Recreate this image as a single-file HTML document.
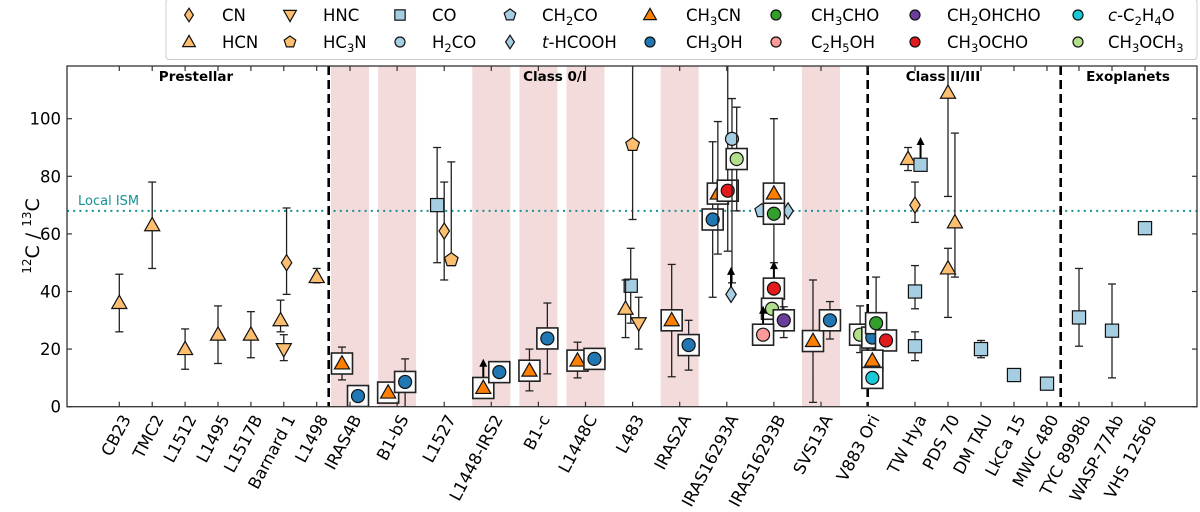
<!DOCTYPE html>
<html><head><meta charset="utf-8"><style>
html,body{margin:0;padding:0;background:#fff;}
svg{display:block;font-family:"DejaVu Sans","Liberation Sans",sans-serif;}
</style></head><body>
<svg id="chart" width="1200" height="512" viewBox="0 0 1200 512"></svg>
<script>
const categories=["CB23","TMC2","L1512","L1495","L1517B","Barnard 1","L1498","IRAS4B","B1-bS","L1527","L1448-IRS2","B1-c","L1448C","L483","IRAS2A","IRAS16293A","IRAS16293B","SVS13A","V883 Ori","TW Hya","PDS 70","DM TAU","LkCa 15","MWC 480","TYC 8998b","WASP-77Ab","VHS 1256b"];
const shadedCats=[7,8,10,11,12,14,17];
const yTicks=[0,20,40,60,80,100];
const localISM=68;
// points
const ptCat=[0,1,2,3,4,5,5,5,6, 7,7,8,8,9,9,9,10,10,11,11,12,12,13,13,13,13,14,14, 15,15,15,15,15,15, 16,16,16,16,16,16,16,16, 17,17, 18,18,18,18,18,18, 19,19,19,19,19, 20,20,20, 21,22,23,24,25,26];
const ptSpecies=["HCN","HCN","HCN","HCN","HCN","CN","HCN","HNC","HCN",
"CH3CN","CH3OH","CH3CN","CH3OH","CO","CN","HC3N","CH3CN","CH3OH","CH3CN","CH3OH","CH3CN","CH3OH","HC3N","CO","HCN","HNC","CH3CN","CH3OH",
"CH3OH","CH3CN","CH3OCHO","H2CO","CH3OCH3","tHCOOH",
"CH2CO","tHCOOH","CH3CN","CH3CHO","CH3OCHO","CH3OCH3","CH2OHCHO","C2H5OH",
"CH3CN","CH3OH",
"CH3OCH3","CH3OH","CH3CHO","CH3OCHO","CH3CN","cC2H4O",
"HCN","CO","CN","CO","CO",
"HCN","HCN","HCN",
"CO","CO","CO","CO","CO","CO"];
const ptValue=[36,63,20,25,25,50,30,20,45,
15,3.7,4.9,8.6,70,61,51,6.5,12,12.5,23.7,16,16.6,91,42,34,29,30,21.4,
65,74,75,93,86,39,
68,68,74,67,41,34,30,25,
22.8,30,
25,24,29,23,16,10,
86,84,70,40,21,
109,48,64,
20,11,8,31,26.4,62];
const ptLow=[26,48,13,15,17,39,26,16,43,
9.3,null,null,0,50,44,49,null,null,5.5,11.4,10,null,65,29,24,20,10.4,12.7,
38,53,54,43,68,null,
null,null,50,null,null,31,24,null,
1.5,23.5,
18.8,null,20,null,null,null,
82,null,64,34,16,
73,31,45,
17,null,null,21,10,null];
const ptHigh=[46,78,27,35,33,69,37,25,48,
20.7,null,null,16.6,90,78,85,null,null,20,36,22.4,null,125,55,44,38,49.4,30,
92,99,125,107,104,null,
null,null,100,null,null,36,34.7,null,
44,36.5,
35,null,45,null,null,null,
90,null,78,49,26,
125,55,95,
23,null,null,48,42.6,null];
const ptLimit=[null,null,null,null,null,null,null,null,null,
null,null,null,null,null,null,null,15.6,null,null,null,null,null,null,null,null,null,null,null,
null,null,null,null,null,47.5,
null,null,null,null,49.5,null,null,34,
null,null,
null,null,null,null,null,null,
null,92.6,null,null,null,
null,null,null,
null,null,null,null,null,null];
const ptDodge=[0,0,0,0,0,0.06,-0.07,0,0,
-0.17,0.17,-0.19,0.17,-0.15,0,0.15,-0.17,0.17,-0.19,0.19,-0.17,0.19,0,-0.04,-0.15,0.13,-0.17,0.19,
-0.3,-0.19,0.02,0.11,0.21,0.09,
-0.26,0.3,0,0,0,-0.04,0.21,-0.23,
-0.17,0.19,
-0.17,0.09,0.17,0.38,0.09,0.09,
-0.15,0.12,0,0,0,
0,0,0.15,
0,0,0,0,0,0];
const ptBoxed=[0,0,0,0,0,0,0,0,0,
1,1,1,1,0,0,0,1,1,1,1,1,1,0,0,0,0,1,1,
1,1,1,0,1,0,
0,0,1,1,1,1,1,1,
1,1,
1,1,1,1,1,1,
0,0,0,0,0,
0,0,0,
0,0,0,0,0,0];

const species={
 CN:{shape:"diamond",color:"#fdbf6f",label:["CN"]},
 HCN:{shape:"tri",color:"#fdbf6f",label:["HCN"]},
 HNC:{shape:"dtri",color:"#fdbf6f",label:["HNC"]},
 HC3N:{shape:"pent",color:"#fdbf6f",label:["HC",["3"],"N"]},
 CO:{shape:"square",color:"#a6cee3",label:["CO"]},
 H2CO:{shape:"circle",color:"#a6cee3",label:["H",["2"],"CO"]},
 CH2CO:{shape:"pent",color:"#a6cee3",label:["CH",["2"],"CO"]},
 tHCOOH:{shape:"diamond",color:"#a6cee3",label:[{i:"t"},"-HCOOH"]},
 CH3CN:{shape:"tri",color:"#ff7f00",label:["CH",["3"],"CN"]},
 CH3OH:{shape:"circle",color:"#1f78b4",label:["CH",["3"],"OH"]},
 CH3CHO:{shape:"circle",color:"#33a02c",label:["CH",["3"],"CHO"]},
 C2H5OH:{shape:"circle",color:"#fb9a99",label:["C",["2"],"H",["5"],"OH"]},
 CH2OHCHO:{shape:"circle",color:"#6a3d9a",label:["CH",["2"],"OHCHO"]},
 CH3OCHO:{shape:"circle",color:"#e31a1c",label:["CH",["3"],"OCHO"]},
 cC2H4O:{shape:"circle",color:"#17c9d6",label:[{i:"c"},"-C",["2"],"H",["4"],"O"]},
 CH3OCH3:{shape:"circle",color:"#b2df8a",label:["CH",["3"],"OCH",["3"]]}
};
const legendOrder=["CN","HNC","CO","CH2CO","CH3CN","CH3CHO","CH2OHCHO","cC2H4O","HCN","HC3N","H2CO","tHCOOH","CH3OH","C2H5OH","CH3OCHO","CH3OCH3"];

const NS="http://www.w3.org/2000/svg";
const svg=document.getElementById("chart");
const L=67,R=1197,T=66,B=406.7,YMAX=118.3;
function yS(v){return B-(B-T)*Math.min(v,YMAX+10)/YMAX;}
function xS(c){
 if(c<=6) return 119.3+32.9*c;
 if(c<=18) return 350+47.1*(c-7);
 if(c<=23) return 915+33*(c-19);
 return 1079+33*(c-24);
}
function groupStep(c){return (c>=7&&c<=18)?47.1:33;}
function el(tag,attrs,parent){const e=document.createElementNS(NS,tag);for(const k in attrs)e.setAttribute(k,attrs[k]);(parent||svg).appendChild(e);return e;}
const clip=el("clipPath",{id:"pc"});el("rect",{x:L,y:T,width:R-L,height:B-T},clip);

shadedCats.forEach(c=>{
 const r=el("rect",{x:xS(c)-19,y:T,width:38,height:B-T,fill:"#f4dbdb"});
 
 
});
const ism=el("line",{x1:L,x2:R,y1:yS(localISM),y2:yS(localISM),stroke:"#16928f","stroke-width":2,"stroke-dasharray":"2,4.2"});


const ismT=el("text",{x:78,y:yS(localISM)-6,fill:"#16928f","font-size":13});
ismT.textContent="Local ISM";


[328.7,867.7,1060.7].forEach(x=>{
 const d=el("line",{x1:x,x2:x,y1:T,y2:B,stroke:"#000","stroke-width":2.6,"stroke-dasharray":"9,5"});
 
 
});
[["Prestellar",196],["Class 0/I",555],["Class II/III",943],["Exoplanets",1128]].forEach(([t,x])=>{
 const tt=el("text",{x:x,y:81,"text-anchor":"middle","font-size":13.5,"font-weight":"bold"});
 tt.textContent=t;
 
 
});

function marker(shape,color,x,y,s,parent){
 const a={fill:color,stroke:"#111","stroke-width":1.2};
 let m;
 if(shape==="circle") m=el("circle",Object.assign({cx:x,cy:y,r:s*0.5},a),parent);
 else if(shape==="square") m=el("rect",Object.assign({x:x-s*0.47,y:y-s*0.47,width:s*0.94,height:s*0.94},a),parent);
 else if(shape==="tri") m=el("polygon",Object.assign({points:`${x},${y-s*0.6} ${x-s*0.58},${y+s*0.42} ${x+s*0.58},${y+s*0.42}`},a),parent);
 else if(shape==="dtri") m=el("polygon",Object.assign({points:`${x},${y+s*0.6} ${x-s*0.58},${y-s*0.42} ${x+s*0.58},${y-s*0.42}`},a),parent);
 else if(shape==="diamond") m=el("polygon",Object.assign({points:`${x},${y-s*0.62} ${x+s*0.4},${y} ${x},${y+s*0.62} ${x-s*0.4},${y}`},a),parent);
 else {let p=[];for(let k=0;k<5;k++){const an=-Math.PI/2+k*2*Math.PI/5;p.push((x+s*0.55*Math.cos(an)).toFixed(1)+","+(y+s*0.55*Math.sin(an)).toFixed(1));}
  m=el("polygon",Object.assign({points:p.join(" ")},a),parent);}
 return m;
}

const pg=el("g",{"clip-path":"url(#pc)"});


for(let i=0;i<ptValue.length;i++){
 const c=ptCat[i];const x=xS(c)+ptDodge[i]*groupStep(c)*(c>=7&&c<=18?1:1.4);
 const y=yS(ptValue[i]);
 const g=el("g",{},pg);
 
 
 if(ptLow[i]!==null){
  const y1=yS(ptLow[i]),y2=yS(ptHigh[i]);
  el("line",{x1:x,x2:x,y1:y1,y2:y2,stroke:"#222","stroke-width":1.3},g);
  el("line",{x1:x-4,x2:x+4,y1:y1,y2:y1,stroke:"#222","stroke-width":1.3},g);
  el("line",{x1:x-4,x2:x+4,y1:y2,y2:y2,stroke:"#222","stroke-width":1.3},g);
 }
 if(ptLimit[i]!==null){
  const yl=yS(ptLimit[i]);
  el("line",{x1:x,x2:x,y1:y,y2:yl+4,stroke:"#000","stroke-width":2},g);
  el("polygon",{points:`${x},${yl-3} ${x-4},${yl+5} ${x+4},${yl+5}`,fill:"#000"},g);
 }
 if(ptBoxed[i]){
  el("rect",{x:x-10.5,y:y-10.5,width:21,height:21,fill:"#fbfbfb",stroke:"#222","stroke-width":1.6},g);
 }
 const sp=species[ptSpecies[i]];
 marker(sp.shape,sp.color,x,y,sp.shape==="circle"?13:(sp.shape==="square"?14:13),g);
}

const fr=el("rect",{x:L,y:T,width:R-L,height:B-T,fill:"none",stroke:"#333","stroke-width":1.3});


yTicks.forEach(v=>{
 const y=yS(v);
 el("line",{x1:L,x2:L+5,y1:y,y2:y,stroke:"#333","stroke-width":1.2});
 el("line",{x1:R-5,x2:R,y1:y,y2:y,stroke:"#333","stroke-width":1.2});
 const t=el("text",{x:L-6,y:y+6,"text-anchor":"end","font-size":16.5});
 t.textContent=v;
 
 
});
categories.forEach((n,c)=>{
 const x=xS(c);
 el("line",{x1:x,x2:x,y1:B-5,y2:B,stroke:"#333","stroke-width":1.2});
 el("line",{x1:x,x2:x,y1:T,y2:T+5,stroke:"#333","stroke-width":1.2});
 const t=el("text",{transform:`translate(${x+12},${B+12}) rotate(-62)`,"text-anchor":"end","font-size":16.5});
 t.textContent=n;
 
 
});
const yl=el("text",{transform:"translate(39,236) rotate(-90)","text-anchor":"middle","font-size":19});
yl.innerHTML='<tspan font-size="12" dy="-8">12</tspan><tspan dy="8">C / </tspan><tspan font-size="12" dy="-8">13</tspan><tspan dy="8">C</tspan>';



const lg=el("g",{});


el("rect",{x:166,y:-1,width:1031,height:60.5,rx:3,fill:"#fff",stroke:"#ccc","stroke-width":1},lg);
const colM=[189,290,400,510,650,776,915,1078],colT=[222,323,432,542,686,811,947,1108];
legendOrder.forEach((k,j)=>{
 const col=j%8,row=Math.floor(j/8);const y=row?42:15;
 const sp=species[k];
 const e=el("g",{},lg);
 
 
 marker(sp.shape,sp.color,colM[col],y,sp.shape==="circle"?10:11,e);
 const t=el("text",{x:colT[col],y:y+6,"font-size":16.5},e);
 let pendingDy=0;
 sp.label.forEach(p=>{
  const ts=document.createElementNS(NS,"tspan");
  if(Array.isArray(p)){ts.setAttribute("font-size","11.5");ts.setAttribute("dy",String(4-pendingDy));ts.textContent=p[0];pendingDy=4;}
  else{
   if(pendingDy){ts.setAttribute("dy",String(-pendingDy));pendingDy=0;}
   if(typeof p==="object"){ts.setAttribute("font-style","italic");ts.textContent=p.i;}
   else ts.textContent=p;
  }
  t.appendChild(ts);
 });
});
</script>
</body></html>
